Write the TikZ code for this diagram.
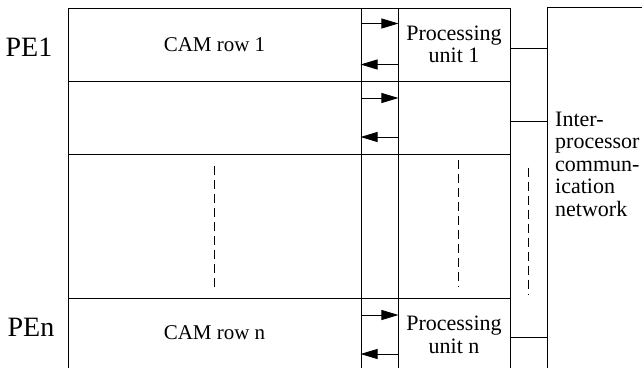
\documentclass[tikz,border=0pt]{standalone}
\usepackage{fontspec}
\setmainfont{Liberation Serif}
\usetikzlibrary{arrows.meta, calc, positioning}
\tikzstyle{cell} = [rectangle, text centered, align=center, draw=black, line width=0.9pt, inner sep=0pt, font=\fontsize{21}{22}\selectfont]
\tikzstyle{pulbl} = [font=\fontsize{22}{22.5}\selectfont]
\tikzstyle{pelbl} = [inner sep=0pt, font=\fontsize{28}{30}\selectfont]
\tikzstyle{netlbl} = [inner sep=0pt, align=left, font=\fontsize{22}{22.5}\selectfont]
\tikzstyle{link} = [line width=0.9pt, -{Triangle[length=17pt, width=10pt]}]
\tikzstyle{wire} = [line width=0.9pt]
\tikzstyle{dots} = [line width=0.9pt, dash pattern=on 9pt off 5pt]

\begin{document}
\begin{tikzpicture}[x=1pt, y=-1pt]
		\useasboundingbox (0,0) rectangle (642,367);
		\clip (0,0) rectangle (642,367);

		% CAM rows
		\node (cam1) [cell, minimum width=293pt, minimum height=73pt] at (214.5,44.5) {CAM row 1};
		\node (cam2) [cell, minimum width=293pt, minimum height=73pt] at ($(cam1) + (0,73)$) {};
		\node (camd) [cell, minimum width=293pt, minimum height=144pt] at ($(cam2) + (0,108.5)$) {};
		\node (camn) [cell, minimum width=293pt, minimum height=74pt] at ($(camd) + (0,109)$) {\raisebox{5pt}{CAM row n}};

		% link column
		\node (lnk1) [cell, minimum width=37pt, minimum height=73pt] at ($(cam1) + (165,0)$) {};
		\node (lnk2) [cell, minimum width=37pt, minimum height=73pt] at ($(cam2) + (165,0)$) {};
		\node (lnkd) [cell, minimum width=37pt, minimum height=144pt] at ($(camd) + (165,0)$) {};
		\node (lnkn) [cell, minimum width=37pt, minimum height=74pt] at ($(camn) + (165,0)$) {};

		% processing units
		\node (pu1) [cell, pulbl, minimum width=112pt, minimum height=73pt] at ($(lnk1) + (74.5,0)$) {Processing\\unit 1};
		\node (pu2) [cell, minimum width=112pt, minimum height=73pt] at ($(lnk2) + (74.5,0)$) {};
		\node (pud) [cell, minimum width=112pt, minimum height=144pt] at ($(lnkd) + (74.5,0)$) {};
		\node (pun) [cell, pulbl, minimum width=112pt, minimum height=74pt] at ($(lnkn) + (74.5,0)$) {Processing\\unit n};

		% network
		\node (net) [cell, minimum width=153pt, minimum height=412pt] at ($(pu1.north east) + (113.5,206)$) {};
		\node (netlbl) [netlbl, anchor=west] at ($(net.north west) + (8,157)$) {Inter-\\processor\\commun-\\ication\\network};

		\node (pe1) [pelbl, left=15pt of cam1, yshift=-2.5pt] {PE1};
		\node (pen) [pelbl, left=13pt of camn, yshift=8pt] {PEn};

		% CAM <-> PU
		\draw[link] ([yshift=21pt]lnk1.west) -- ([yshift=21pt]lnk1.east);
		\draw[link] ([yshift=-20pt]lnk1.east) -- ([yshift=-20pt]lnk1.west);
		\draw[link] ([yshift=19.5pt]lnk2.west) -- ([yshift=19.5pt]lnk2.east);
		\draw[link] ([yshift=-19.5pt]lnk2.east) -- ([yshift=-19.5pt]lnk2.west);
		\draw[link] ([yshift=20pt]lnkn.west) -- ([yshift=20pt]lnkn.east);
		\draw[link] ([yshift=-19pt]lnkn.east) -- ([yshift=-19pt]lnkn.west);

		% PU -> network
		\coordinate (w1) at ([yshift=-3.5pt]pu1.east);
		\coordinate (w2) at ([yshift=-3.5pt]pu2.east);
		\coordinate (wn) at ([yshift=-2pt]pun.east);
		\draw[wire] (w1) -- (w1 -| net.west);
		\draw[wire] (w2) -- (w2 -| net.west);
		\draw[wire] (wn) -- (wn -| net.west);

		% more rows
		\draw[dots] ([yshift=-12pt]camd.north) -- ([yshift=8pt]camd.south);
		\draw[dots] ([xshift=4pt, yshift=-6pt]pud.north) -- ([xshift=4pt, yshift=11pt]pud.south);
		\coordinate (gap) at ($(pud.north east)!0.5!(pud.north east -| net.west)$);
		\draw[dots] ([yshift=-14pt]gap) -- ([yshift=-141pt]gap);
	\end{tikzpicture}
\end{document}
